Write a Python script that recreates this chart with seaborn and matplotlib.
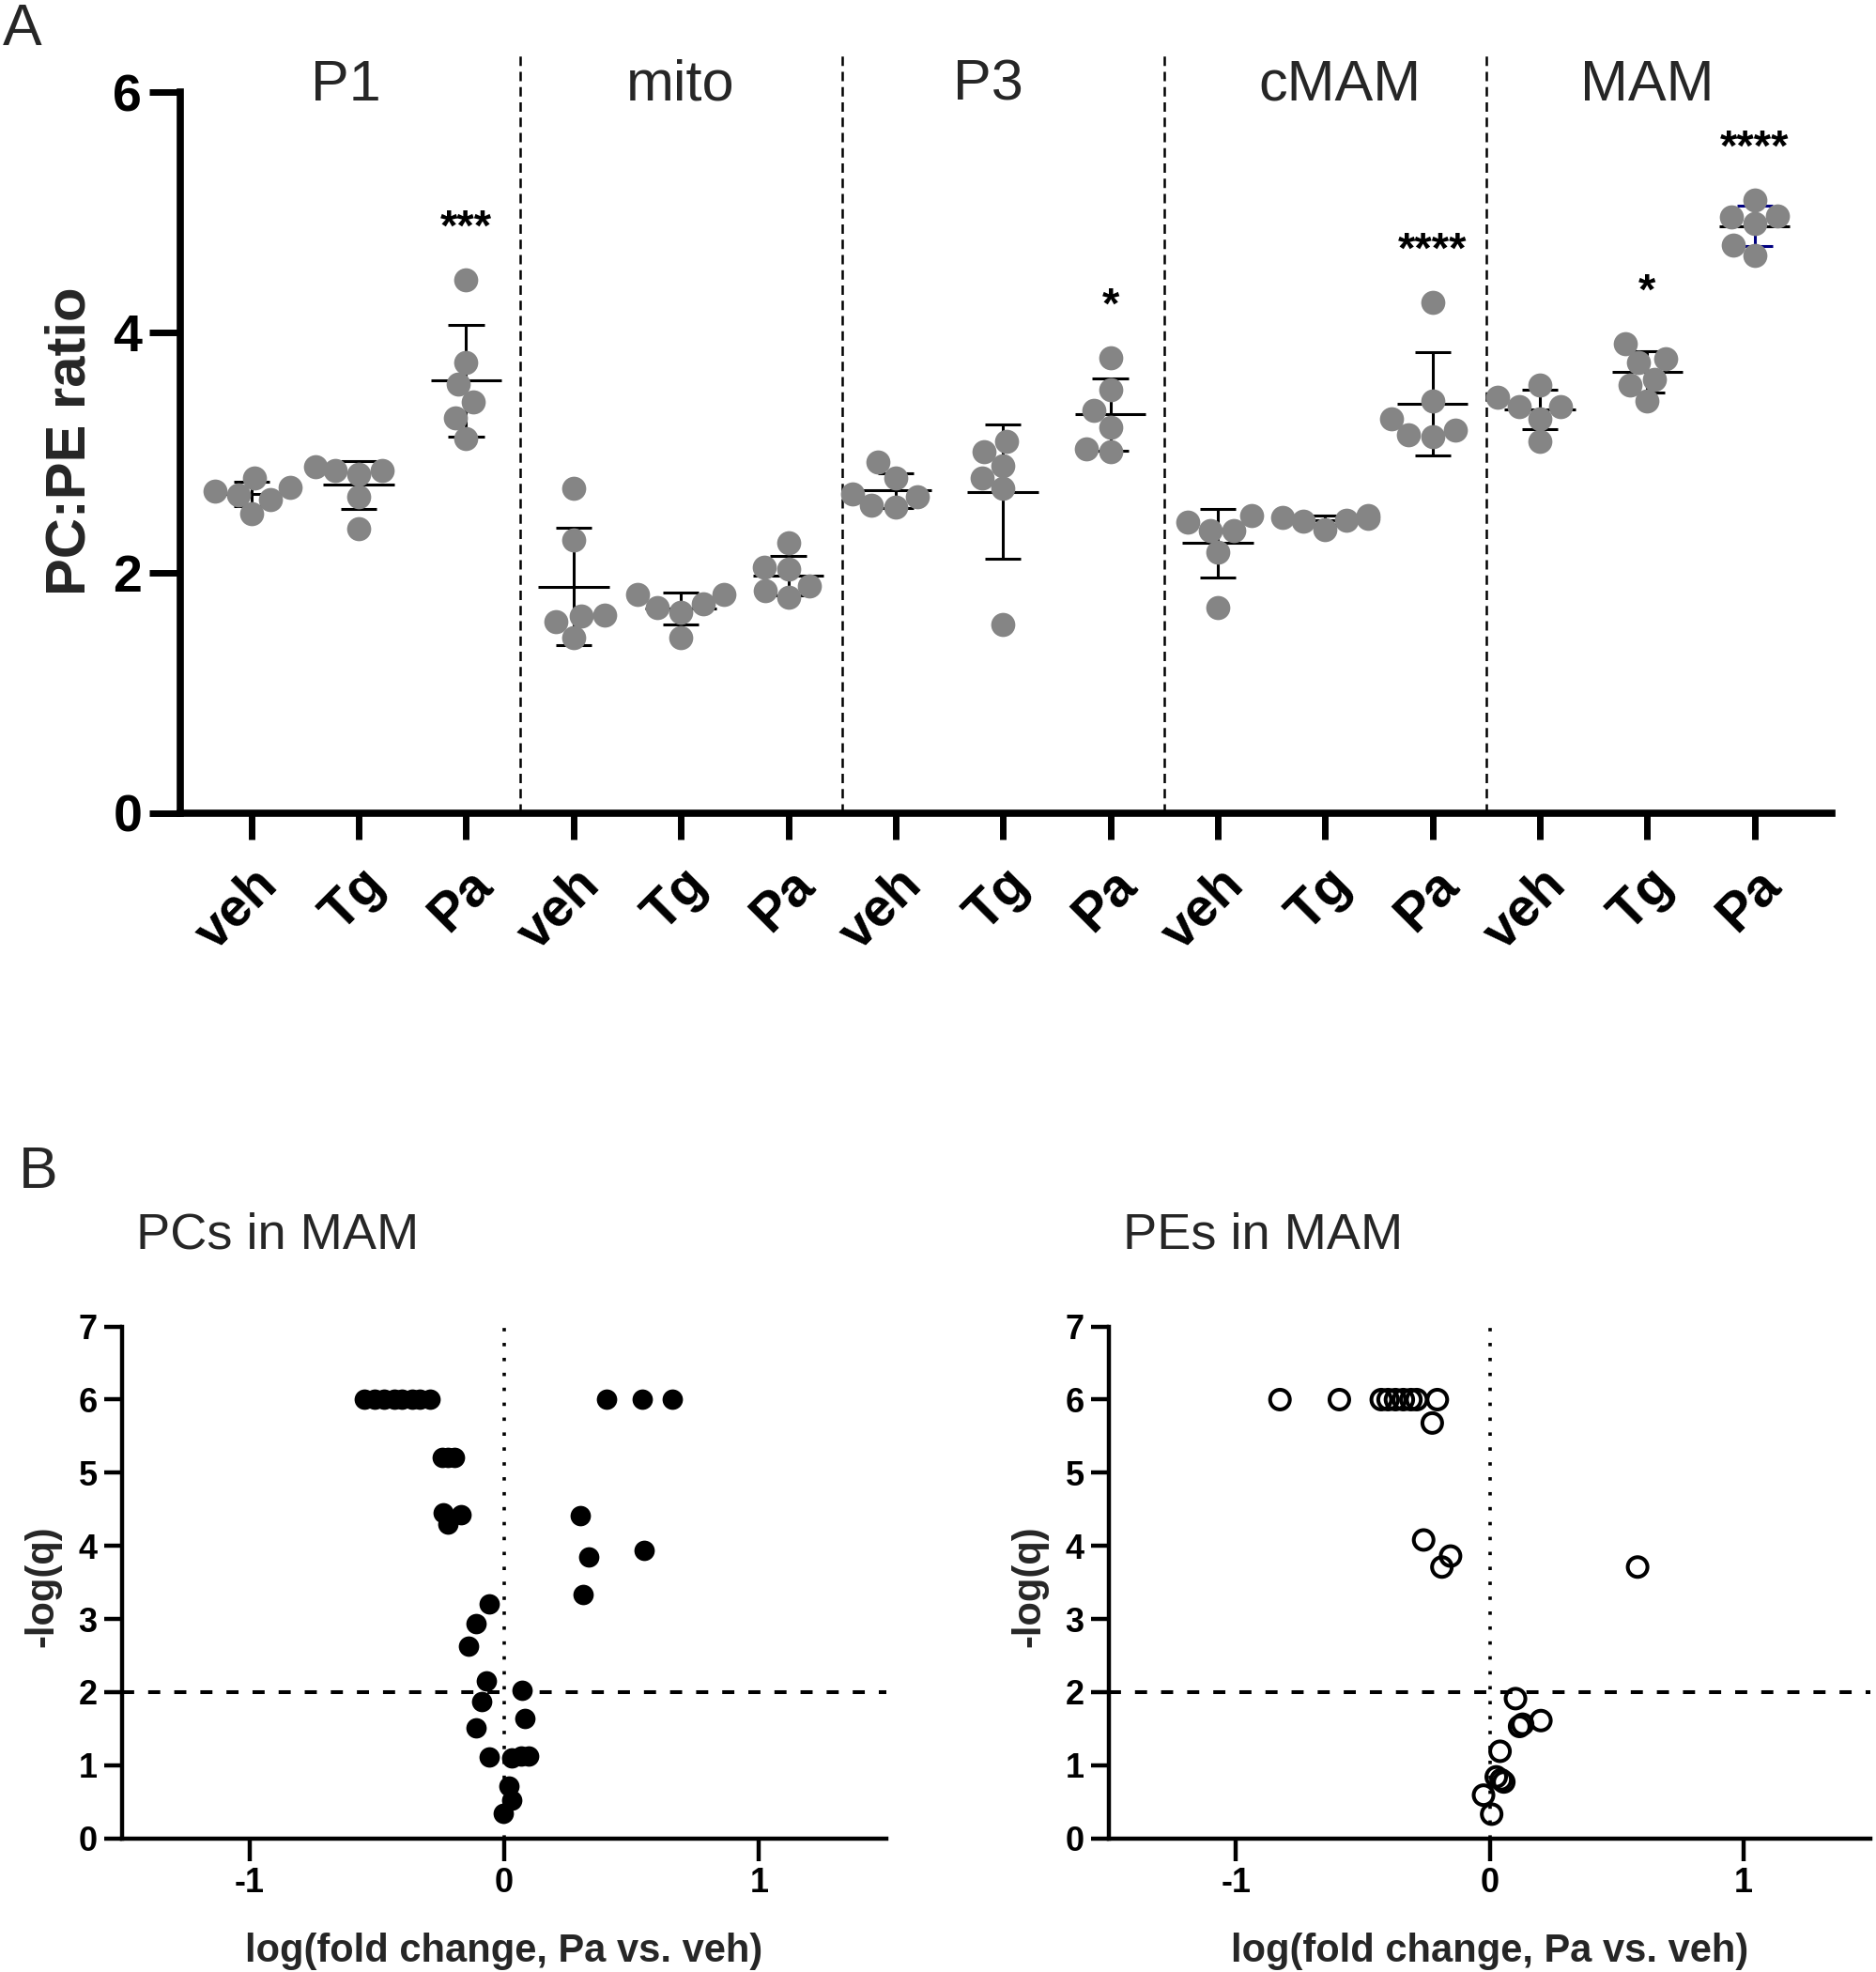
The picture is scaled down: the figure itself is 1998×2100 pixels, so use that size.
import numpy as np
import pandas as pd
import matplotlib
matplotlib.use('Agg')
import matplotlib.pyplot as plt
import seaborn as sns

# ---- data: panel A (PC:PE ratio, six samples per group) ----
fractions = ['P1', 'mito', 'P3', 'cMAM', 'MAM']
treatments = ['veh', 'Tg', 'Pa']

# one list per treatment: veh, Tg, Pa
ratio_p1 = [[2.68, 2.71, 2.79, 2.49, 2.61, 2.65],
            [2.85, 2.88, 2.82, 2.85, 2.63, 2.37],
            [4.44, 3.75, 3.57, 3.42, 3.29, 3.12]]
ratio_mito = [[2.70, 2.27, 1.65, 1.64, 1.59, 1.46],
              [1.82, 1.82, 1.74, 1.71, 1.67, 1.46],
              [2.25, 2.05, 2.03, 1.89, 1.85, 1.80]]
ratio_p3 = [[2.92, 2.79, 2.66, 2.63, 2.55, 2.56],
            [3.01, 3.09, 2.89, 2.79, 2.70, 1.57],
            [3.79, 3.52, 3.35, 3.21, 3.01, 3.03]]
ratio_cmam = [[2.48, 2.42, 2.35, 2.35, 2.17, 1.71],
              [2.43, 2.48, 2.44, 2.46, 2.45, 2.36],
              [4.25, 3.43, 3.28, 3.13, 3.15, 3.19]]
ratio_mam = [[3.56, 3.46, 3.38, 3.38, 3.28, 3.09],
             [3.91, 3.78, 3.75, 3.61, 3.56, 3.43],
             [5.10, 4.96, 4.97, 4.91, 4.73, 4.64]]

sig_stars = {('P1', 'Pa'): '***', ('P3', 'Pa'): '*', ('cMAM', 'Pa'): '****',
             ('MAM', 'Tg'): '*', ('MAM', 'Pa'): '****'}

# ---- data: panel B (volcano plots, MAM, Pa vs veh) ----
pc_logfc = [-0.55, -0.51, -0.47, -0.43, -0.40, -0.36, -0.33, -0.29, 0.40, 0.54, 0.66,
            -0.245, -0.22, -0.195,
            -0.24, -0.22, -0.17, -0.22,
            0.30, 0.33, 0.31, 0.55,
            -0.06, -0.11, -0.14, -0.07, -0.09, -0.11, -0.06,
            0.07, 0.08, 0.03, 0.065, 0.095, 0.02, 0.03, -0.005]
pc_neglogq = [6.0, 6.0, 6.0, 6.0, 6.0, 6.0, 6.0, 6.0, 6.0, 6.0, 6.0,
              5.21, 5.21, 5.21,
              4.45, 4.38, 4.42, 4.30,
              4.41, 3.85, 3.34, 3.94,
              3.21, 2.93, 2.63, 2.15, 1.87, 1.51, 1.11,
              2.03, 1.64, 1.10, 1.12, 1.12, 0.72, 0.52, 0.34]

pe_logfc = [-0.826, -0.592, -0.427, -0.40, -0.371, -0.34, -0.31, -0.287, -0.206, -0.226,
            -0.26, -0.154, -0.188, 0.583,
            0.102, 0.13, 0.118, 0.202, 0.041, 0.026, 0.056, 0.045, -0.024, 0.008]
pe_neglogq = [6.0, 6.0, 6.0, 6.0, 6.0, 6.0, 6.0, 6.0, 6.0, 5.68,
              4.08, 3.86, 3.71, 3.71,
              1.91, 1.56, 1.53, 1.61, 1.19, 0.84, 0.77, 0.80, 0.59, 0.33]

# ---- build long table for panel A ----
all_ratios = [ratio_p1, ratio_mito, ratio_p3, ratio_cmam, ratio_mam]
rows = []
for frac, groups in zip(fractions, all_ratios):
    for treat, vals in zip(treatments, groups):
        for v in vals:
            rows.append({'fraction': frac, 'treatment': treat,
                         'group': f'{frac} {treat}', 'ratio': v})
df = pd.DataFrame(rows)
group_order = [f'{f} {t}' for f in fractions for t in treatments]

# ---- style ----
sns.set_theme(style='ticks')
plt.rcParams['font.family'] = ['Liberation Sans', 'DejaVu Sans']
plt.rcParams['axes.unicode_minus'] = False

W, H = 1999, 2100
fig = plt.figure(figsize=(W / 100, H / 100), dpi=100)
fig.patch.set_facecolor('white')

# ================= panel A =================
axA = fig.add_axes([191.5 / W, 1 - 866 / H, (1951 - 191.5) / W, 6.35 * 128 / H])
# swarm layout with slightly smaller markers, then redraw bigger so dots overlap a bit
sns.swarmplot(data=df, x='group', y='ratio', order=group_order, color='#858585',
              size=17.5, linewidth=0, ax=axA, zorder=4)
axA.set_xlim(-0.667, 14.72)
axA.set_ylim(0, 6.35)
fig.canvas.draw()
swarm_cols = [c for c in axA.collections if len(c.get_offsets())]
xy = np.vstack([np.asarray(c.get_offsets()) for c in swarm_cols])
for c in swarm_cols:
    c.remove()
axA.scatter(xy[:, 0], xy[:, 1], s=18.5 ** 2, color='#858585', linewidths=0, zorder=4)

stats = df.groupby('group', sort=False)['ratio'].agg(['mean', 'std', 'max'])
for i, g in enumerate(group_order):
    m, sd = stats.loc[g, 'mean'], stats.loc[g, 'std']
    bar_col = 'navy' if g == 'MAM Pa' else 'black'
    axA.hlines(m, i - 0.33, i + 0.33, color='black', lw=2.2, zorder=3)
    axA.vlines(i, m - sd, m + sd, color=bar_col, lw=2.2, zorder=3)
    axA.hlines([m - sd, m + sd], i - 0.167, i + 0.167, color=bar_col, lw=2.2, zorder=3)

# significance stars
for (frac, treat), star in sig_stars.items():
    g = f'{frac} {treat}'
    i = group_order.index(g)
    axA.text(i, stats.loc[g, 'max'] + 0.33, star, ha='center', va='baseline',
             fontsize=34, fontweight='bold', color='black')

# fraction separators and titles
title_nudge = [-0.12, 0, -0.14, 0.14, 0]
for k, frac in enumerate(fractions):
    axA.text(3 * k + 1 + title_nudge[k], 5.93, frac, ha='center', va='baseline',
             fontsize=44)
    if k > 0:
        axA.vlines(3 * k - 0.5, 0, 6.32, color='black', lw=1.8,
                   linestyles=(0, (4, 2.5)), zorder=1)

axA.set_xlim(-0.667, 14.72)
axA.set_ylim(0, 6.35)
axA.set_yticks([0, 2, 4, 6])
axA.set_yticklabels(['0', '2', '4', '6'], fontsize=40, fontweight='bold')
axA.set_xticks(range(len(group_order)))
axA.set_xticklabels(treatments * len(fractions), fontsize=41, fontweight='bold',
                    rotation=45, ha='right', va='top', rotation_mode='anchor')
axA.set_xlabel('')
axA.set_ylabel('PC:PE ratio', fontsize=43, fontweight='bold')
axA.yaxis.set_label_coords(-0.0503, 0.487)
for side in ['top', 'right']:
    axA.spines[side].set_visible(False)
for side in ['left', 'bottom']:
    axA.spines[side].set_linewidth(5.5)
    axA.spines[side].set_color('black')
axA.spines['left'].set_bounds(0, 6)
axA.tick_params(axis='y', length=24, width=5, pad=5, colors='black')
axA.tick_params(axis='x', length=20, width=5, pad=15, colors='black')

fig.text(3 / W, 1 - 48 / H, 'A', fontsize=45, va='baseline', ha='left')

# ================= panel B =================
axL = fig.add_axes([130 / W, 1 - 1957.6 / H, 814 / W, 545 / H])
axR = fig.add_axes([1181 / W, 1 - 1957.6 / H, 811 / W, 545 / H])

sns.scatterplot(x=pc_logfc, y=pc_neglogq, ax=axL, color='black', s=245,
                linewidth=0, zorder=4)
sns.scatterplot(x=pe_logfc, y=pe_neglogq, ax=axR, s=228, marker='o',
                facecolor='none', edgecolor='black', linewidth=2.9, zorder=4)
axR.collections[0].set_facecolor('none')
axR.collections[0].set_edgecolor('black')

for ax in [axL, axR]:
    ax.axhline(2, color='black', lw=2.9, linestyle=(0, (3.2, 3.7)), zorder=2)
    ax.vlines(0, 0, 7, color='black', lw=2.6, linestyles=(0, (1, 3.4)),
              zorder=2)
    ax.set_xlim(-1.5, 1.5)
    ax.set_ylim(0, 7)
    ax.set_xticks([-1, 0, 1])
    ax.set_xticklabels(['-1', '0', '1'], fontsize=26, fontweight='bold')
    ax.set_yticks(range(8))
    ax.set_yticklabels([str(v) for v in range(8)], fontsize=26, fontweight='bold')
    ax.set_xlabel('log(fold change, Pa vs. veh)', fontsize=30, fontweight='bold')
    ax.set_ylabel('-log(q)', fontsize=30, fontweight='bold')
    ax.xaxis.set_label_coords(0.5, -0.184)
    ax.yaxis.set_label_coords(-0.08, 0.493)
    for side in ['top', 'right']:
        ax.spines[side].set_visible(False)
    for side in ['left', 'bottom']:
        ax.spines[side].set_linewidth(3.2)
        ax.spines[side].set_color('black')
    ax.tick_params(axis='y', length=14, width=3.2, pad=5, colors='black')
    ax.tick_params(axis='x', length=17, width=3.2, pad=5, colors='black')

fig.text(20 / W, 1 - 1265 / H, 'B', fontsize=45, va='baseline', ha='left')
fig.text(145 / W, 1 - 1330 / H, 'PCs in MAM', fontsize=39, va='baseline', ha='left')
fig.text(1196 / W, 1 - 1330 / H, 'PEs in MAM', fontsize=39, va='baseline', ha='left')

fig.savefig('out.png', dpi=100, facecolor='white')
